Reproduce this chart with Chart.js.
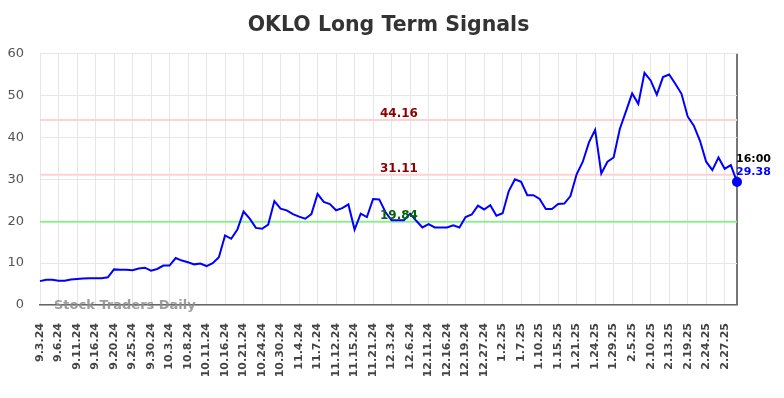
<!DOCTYPE html>
<html><head><meta charset="utf-8">
<script src="https://cdn.jsdelivr.net/npm/chart.js@4"></script>
<style>html,body{margin:0;padding:0;background:#fff}</style>
</head><body>
<canvas id="c" width="784" height="398"></canvas>
<script>
const dates = [
'9.3.24','9.4.24','9.5.24','9.6.24','9.9.24','9.10.24','9.11.24','9.12.24','9.13.24','9.16.24',
'9.17.24','9.18.24','9.20.24','9.23.24','9.24.24','9.25.24','9.26.24','9.27.24','9.30.24','10.1.24',
'10.2.24','10.3.24','10.4.24','10.7.24','10.8.24','10.9.24','10.10.24','10.11.24','10.14.24','10.15.24',
'10.16.24','10.17.24','10.18.24','10.21.24','10.22.24','10.23.24','10.24.24','10.25.24','10.28.24','10.30.24',
'10.31.24','11.1.24','11.4.24','11.5.24','11.6.24','11.7.24','11.8.24','11.11.24','11.12.24','11.13.24',
'11.14.24','11.15.24','11.18.24','11.19.24','11.21.24','11.22.24','12.2.24','12.3.24','12.4.24','12.5.24',
'12.6.24','12.9.24','12.10.24','12.11.24','12.12.24','12.13.24','12.16.24','12.17.24','12.18.24','12.19.24',
'12.20.24','12.23.24','12.27.24','12.30.24','12.31.24','1.2.25','1.3.25','1.6.25','1.7.25','1.8.25',
'1.9.25','1.10.25','1.13.25','1.14.25','1.15.25','1.16.25','1.17.25','1.21.25','1.22.25','1.23.25',
'1.24.25','1.27.25','1.28.25','1.29.25','1.30.25','1.31.25','2.5.25','2.6.25','2.7.25','2.10.25',
'2.11.25','2.12.25','2.13.25','2.14.25','2.18.25','2.19.25','2.20.25','2.21.25','2.24.25','2.25.25',
'2.26.25','2.27.25','2.28.25','3.3.25'
];
const prices = [
5.7, 6.0, 6.0, 5.8, 5.8, 6.1, 6.2, 6.3, 6.4, 6.4, 6.4, 6.6,
8.5, 8.4, 8.4, 8.3, 8.7, 8.9, 8.2, 8.6, 9.4, 9.4,
11.2, 10.6, 10.2, 9.7, 9.9, 9.3, 10.0, 11.4, 16.6, 15.8, 18.0, 22.3,
20.6, 18.4, 18.2, 19.2, 24.8, 23.0, 22.6, 21.7, 21.1, 20.6, 21.7, 26.5,
24.6, 24.1, 22.6, 23.1, 24.0, 18.0, 21.8, 21.0, 25.3, 25.2, 22.2, 20.2,
20.2, 20.2, 21.8, 20.1, 18.5, 19.3, 18.5, 18.5, 18.5, 19.0, 18.5, 21.0,
21.6, 23.7, 22.8, 23.8, 21.3, 21.9, 27.2, 30.0, 29.4, 26.2, 26.2, 25.3,
22.9, 22.9, 24.1, 24.2, 26.0, 31.2, 34.2, 38.8, 41.8, 31.4, 34.2, 35.2,
42.0, 46.2, 50.5, 48.0, 55.4, 53.6, 50.2, 54.4, 55.0, 52.8, 50.4, 45.0,
42.8, 39.2, 34.2, 32.2, 35.2, 32.5, 33.4, 29.38
];
const levelValues = [44.16, 31.11, 19.84];
const levelLabels = ['44.16', '31.11', '19.84'];
const lastTimeLabel = '16:00';
const lastValueLabel = '29.38';
const labelStep = 3;
const yMin = 0, yMax = 60, yStep = 10;
const watermarkText = 'Stock Traders Daily';

const lastIndex = prices.length - 1;

const overlay = {
  id: 'overlay',
  beforeDatasetsDraw(chart) {
    const {ctx, chartArea: a, scales: {y}} = chart;
    levelValues.forEach((v, i) => {
      const py = y.getPixelForValue(v);
      ctx.save();
      ctx.strokeStyle = i < 2 ? '#ffd2d2' : '#90ee90';
      ctx.lineWidth = 2;
      ctx.beginPath();
      ctx.moveTo(a.left, py);
      ctx.lineTo(a.right, py);
      ctx.stroke();
      ctx.restore();
    });
  },
  afterDatasetsDraw(chart) {
    const {ctx, chartArea: a, scales: {x, y}} = chart;
    ctx.save();
    ctx.font = 'bold 12px "DejaVu Sans"';
    ctx.textAlign = 'center';
    ctx.textBaseline = 'alphabetic';
    const lx = a.left + (a.right - a.left) * 0.515;
    levelValues.forEach((v, i) => {
      const py = y.getPixelForValue(v);
      ctx.fillStyle = i < 2 ? '#8b0000' : '#006400';
      ctx.fillText(levelLabels[i], lx, py - 3);
    });
    // watermark
    ctx.font = 'bold 13px "DejaVu Sans"';
    ctx.textAlign = 'left';
    ctx.fillStyle = 'rgba(140,140,140,0.85)';
    ctx.fillText(watermarkText, a.left + 14, a.bottom + 4);
    // last point annotation
    const px = x.getPixelForValue(lastIndex);
    const py = y.getPixelForValue(prices[lastIndex]);
    ctx.font = 'bold 11px "DejaVu Sans"';
    ctx.fillStyle = '#000';
    ctx.fillText(lastTimeLabel, px - 1, py - 20);
    ctx.fillStyle = '#0000ff';
    ctx.fillText(lastValueLabel, px - 1, py - 7);
    ctx.restore();
  }
};

Chart.defaults.font.family = '"DejaVu Sans"';

new Chart(document.getElementById('c'), {
  type: 'line',
  data: {
    labels: dates,
    datasets: [{
      data: prices,
      borderColor: '#0000ff',
      backgroundColor: '#0000ff',
      borderWidth: 2,
      tension: 0,
      pointRadius: ctx => ctx.dataIndex === lastIndex ? 4 : 0,
      pointHoverRadius: 0,
      fill: false
    }]
  },
  options: {
    responsive: false,
    animation: false,
    events: [],
    layout: {padding: {left: 0, right: 47, top: 0, bottom: 0}},
    plugins: {
      legend: {display: false},
      tooltip: {enabled: false},
      title: {
        display: true,
        fullSize: false,
        text: 'OKLO Long Term Signals',
        color: '#333',
        font: {size: 20.5, weight: 'bold'},
        padding: {top: 13, bottom: 16}
      }
    },
    scales: {
      x: {
        offset: false,
        grid: {
          drawTicks: false,
          color: ctx => ctx.index === lastIndex ? '#777' : (ctx.index % labelStep === 0 ? '#e6e6e6' : 'rgba(0,0,0,0)'),
          lineWidth: ctx => ctx.index === lastIndex ? 2 : 1
        },
        border: {display: true, color: '#666', width: 1.5},
        ticks: {
          autoSkip: false,
          maxRotation: 90,
          minRotation: 90,
          padding: 18,
          color: '#444',
          font: {size: 11, weight: 'bold'},
          callback: (v, i) => i % labelStep === 0 ? dates[i] : ''
        },
        afterFit: s => { s.height = 93; }
      },
      y: {
        min: yMin, max: yMax,
        grid: {drawTicks: false, color: '#e6e6e6'},
        border: {display: false},
        ticks: {stepSize: yStep, padding: 16, color: '#555', font: {size: 13}},
        afterFit: s => { s.width = 40; }
      }
    }
  },
  plugins: [overlay]
});
</script>
</body></html>
